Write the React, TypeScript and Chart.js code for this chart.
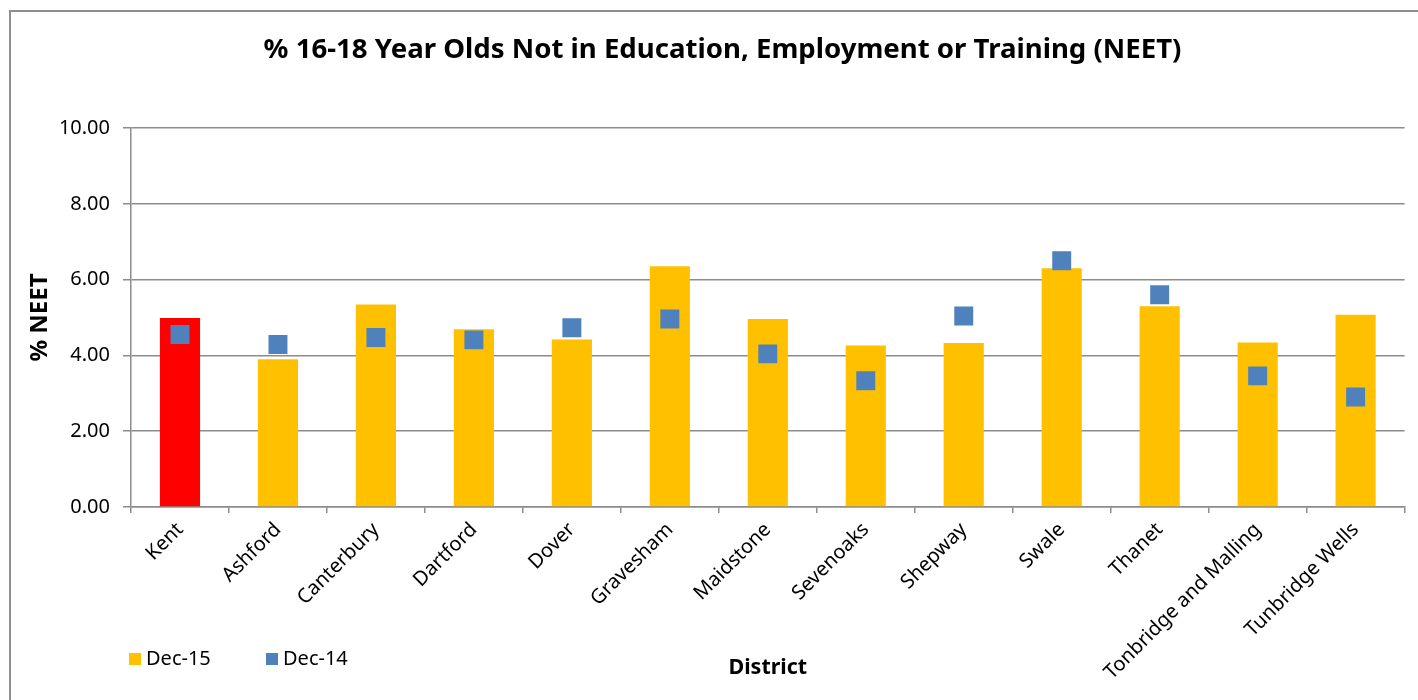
import React, { useEffect, useRef } from "react";
import { Chart, registerables } from "chart.js";

Chart.register(...registerables);

const districts = [
  "Kent",
  "Ashford",
  "Canterbury",
  "Dartford",
  "Dover",
  "Gravesham",
  "Maidstone",
  "Sevenoaks",
  "Shepway",
  "Swale",
  "Thanet",
  "Tonbridge and Malling",
  "Tunbridge Wells",
];
const dec15 = [4.99, 3.9, 5.34, 4.69, 4.42, 6.35, 4.96, 4.26, 4.33, 6.3, 5.3, 4.34, 5.07];
const dec14 = [4.55, 4.29, 4.47, 4.41, 4.73, 4.96, 4.04, 3.33, 5.04, 6.5, 5.6, 3.46, 2.9];
const yTicks = [0, 2, 4, 6, 8, 10];
const seriesNames = ["Dec-15", "Dec-14"];

const FONT = "'Noto Sans', 'DejaVu Sans', sans-serif";
const YELLOW = "#FFC000";
const RED = "#FF0000";
const BLUE = "#4F81BD";
const GRID = "#8C8C8C";

const chromePlugin = {
  id: "chrome",
  beforeDraw(chart: any) {
    const { ctx } = chart;
    ctx.save();
    ctx.strokeStyle = "#8E8E8E";
    ctx.lineWidth = 2;
    ctx.strokeRect(10, 11, 1430, 720);
    ctx.restore();
  },
  afterDraw(chart: any) {
    const { ctx } = chart;
    ctx.save();
    const items = [
      { x: 129, label: seriesNames[0], color: YELLOW },
      { x: 266, label: seriesNames[1], color: BLUE },
    ];
    ctx.font = `20px ${FONT}`;
    ctx.textBaseline = "middle";
    ctx.fillStyle = "#000";
    for (const it of items) {
      ctx.fillStyle = it.color;
      ctx.fillRect(it.x, 653, 12, 12);
      ctx.fillStyle = "#000";
      ctx.fillText(it.label, it.x + 17, 659);
    }
    ctx.restore();
  },
};

export default function App() {
  const ref = useRef<HTMLCanvasElement | null>(null);

  useEffect(() => {
    if (!ref.current) return;
    const chart = new Chart(ref.current, {
      type: "bar",
      data: {
        labels: districts,
        datasets: [
          {
            type: "line",
            label: seriesNames[1],
            data: dec14,
            showLine: false,
            pointStyle: "rect",
            pointRadius: 13.4,
            pointHoverRadius: 13.4,
            pointBackgroundColor: BLUE,
            pointBorderWidth: 0,
            borderColor: BLUE,
            backgroundColor: BLUE,
            order: 0,
          } as any,
          {
            type: "bar",
            label: seriesNames[0],
            data: dec15,
            backgroundColor: districts.map((d, i) => (i === 0 ? RED : YELLOW)),
            borderWidth: 0,
            categoryPercentage: 1,
            barPercentage: 0.41,
            order: 1,
          },
        ],
      },
      options: {
        responsive: false,
        animation: false,
        events: [],
        layout: { padding: { top: 0, left: 40, right: 13, bottom: 19 } },
        plugins: {
          legend: { display: false },
          tooltip: { enabled: false },
          title: {
            display: true,
            text: "% 16-18 Year Olds Not in Education, Employment or Training (NEET)",
            color: "#000",
            font: { family: FONT, size: 27.6, weight: "bold", lineHeight: 1.2 },
            padding: { top: 33.5, bottom: 61.4 },
          },
        },
        scales: {
          x: {
            offset: true,
            grid: {
              display: true,
              offset: true,
              drawOnChartArea: false,
              drawTicks: true,
              tickLength: 6,
              color: GRID,
              lineWidth: 1.5,
            },
            border: { display: true, color: GRID, width: 1.5 },
            ticks: {
              minRotation: 45,
              maxRotation: 45,
              autoSkip: false,
              padding: 5,
              color: "#000",
              font: { family: FONT, size: 20 },
            },
            title: {
              display: true,
              text: "District",
              color: "#000",
              font: { family: FONT, size: 21.5, weight: "bold", lineHeight: 1.2 },
              padding: { top: 0, bottom: 0.1 },
            },
            afterFit(scale: any) {
              scale.height = 174;
            },
          },
          y: {
            min: yTicks[0],
            max: yTicks[yTicks.length - 1],
            afterBuildTicks(scale: any) {
              scale.ticks = yTicks.map((v) => ({ value: v }));
            },
            grid: {
              color: GRID,
              lineWidth: 1.5,
              drawTicks: true,
              tickLength: 8,
            },
            border: { display: true, color: GRID, width: 1.5 },
            ticks: {
              padding: 13,
              color: "#000",
              font: { family: FONT, size: 20 },
              callback: (v: any) => Number(v).toFixed(2),
            },
            title: {
              display: true,
              text: "% NEET",
              color: "#000",
              font: { family: FONT, size: 24, weight: "bold", lineHeight: 1.2 },
              padding: { top: -14.4, bottom: 0 },
            },
            afterFit(scale: any) {
              scale.width = 91;
            },
          },
        },
      },
      plugins: [chromePlugin],
    });
    return () => chart.destroy();
  }, []);

  return (
    <div style={{ position: "absolute", left: 0, top: 0, width: 1418, height: 700, background: "#fff" }}>
      <canvas ref={ref} width={1418} height={700} style={{ display: "block" }} />
    </div>
  );
}
